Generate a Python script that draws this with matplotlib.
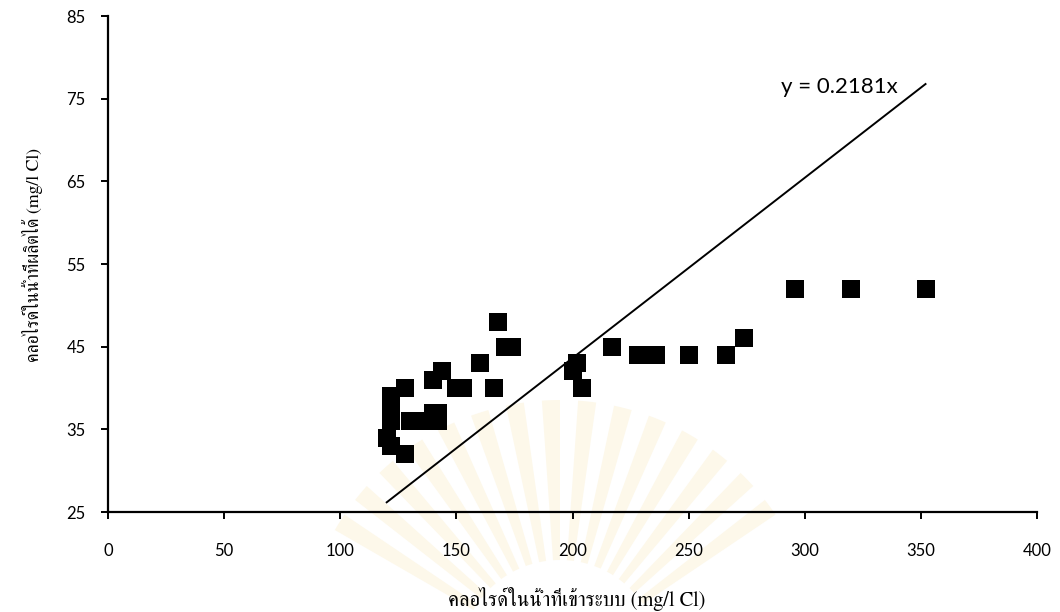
import matplotlib
matplotlib.use("Agg")
import matplotlib.pyplot as plt
from matplotlib.patches import Wedge
import numpy as np

# Chloride in feed water vs. chloride in product water (mg/l Cl)
chloride_in = [120, 122, 122, 122, 122, 122, 128, 128, 130, 135,
               140, 142, 142, 140, 144, 150, 153, 160, 166, 168,
               171, 174, 200, 202, 204, 217, 228, 236, 250, 266,
               274, 296, 320, 352]
chloride_out = [34, 33, 36, 37, 38, 39, 32, 40, 36, 36,
                37, 36, 37, 41, 42, 40, 40, 43, 40, 48,
                45, 45, 42, 43, 40, 45, 44, 44, 44, 44,
                46, 52, 52, 52]

slope = 0.2181
fit_x = [120, 352]

x_ticks = [0, 50, 100, 150, 200, 250, 300, 350, 400]
y_ticks = [25, 35, 45, 55, 65, 75, 85]

xlabel = "คลอไรด์ในน้ำที่เข้าระบบ (mg/l Cl)"
ylabel = "คลอไรด์ในน้ำที่ผลิตได้ (mg/l Cl)"
equation = "y = 0.2181x"

W, H = 1060, 612
fig = plt.figure(figsize=(W / 100, H / 100), dpi=100)

# faint sunburst emblem printed behind the chart
bg = fig.add_axes([0, 0, 1, 1], zorder=0)
bg.set_xlim(0, W)
bg.set_ylim(H, 0)
bg.axis("off")
cx, cy = 560, 660
for ang in np.arange(212, 331, 8):
    bg.add_patch(Wedge((cx, cy), 260, ang - 2.0, ang + 2.0, width=160,
                       facecolor="#fdf8ea", edgecolor="none"))

ax = fig.add_axes([108 / W, 1 - 512 / H, (1037 - 108) / W, (512 - 16) / H],
                  zorder=1)
ax.patch.set_alpha(0)

ax.plot(chloride_in, chloride_out, linestyle="none", marker="s",
        markersize=13.5, color="black", markeredgewidth=0)
fx = np.array(fit_x, dtype=float)
ax.plot(fx, slope * fx, color="black", linewidth=1.4)

ax.set_xlim(0, 400)
ax.set_ylim(25, 85)
ax.set_xticks(x_ticks)
ax.set_yticks(y_ticks)
ax.spines["top"].set_visible(False)
ax.spines["right"].set_visible(False)
for s in ("left", "bottom"):
    ax.spines[s].set_linewidth(1.6)
ax.tick_params(direction="out", length=5, width=1.4, labelsize=12)
ax.tick_params(axis="y", pad=11)
ax.tick_params(axis="x", pad=17)
for lbl in ax.get_xticklabels() + ax.get_yticklabels():
    lbl.set_fontfamily("Lato")

fig.text(839 / W, 1 - 87 / H, equation, ha="center", va="center",
         fontsize=16, family="Lato", zorder=3)

fig.text(577 / W, 1 - 599 / H, xlabel, ha="center", va="center",
         fontsize=14.8, family=["FreeSerif"])
fig.text(32 / W, 1 - 255 / H, ylabel, ha="center", va="center",
         rotation=90, fontsize=12.9, family=["FreeSerif"])

fig.savefig("out.png", dpi=100)
